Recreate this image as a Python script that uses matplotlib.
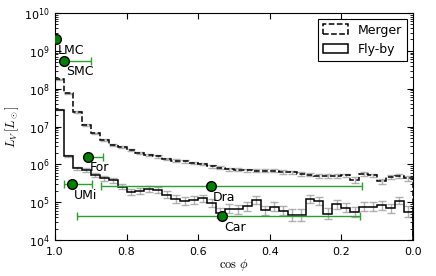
import numpy as np
import matplotlib
matplotlib.use("Agg")
import matplotlib.pyplot as plt

# ---- data -------------------------------------------------------------
bin_edges = np.linspace(0.0, 1.0, 41)

# values per bin from cos(phi)=1 (left) down to 0 (right)
flyby = [2.8e7, 1.7e6, 7.8e5, 7.1e5, 5.2e5, 4.3e5, 3.8e5, 2.6e5, 1.9e5, 1.95e5,
         2.2e5, 2.1e5, 1.6e5, 1.2e5, 1.07e5, 1.15e5, 1.26e5, 9.5e4, 5.2e4, 6.8e4,
         6.5e4, 7.9e4, 1.15e5, 6.2e4, 7.6e4, 6.0e4, 4.6e4, 4.6e4, 1.23e5, 1.07e5,
         5.0e4, 8.9e4, 7.2e4, 5.5e4, 7.6e4, 7.6e4, 8.3e4, 6.9e4, 1.1e5, 5.6e4]
flyby_err_dex = [0.01, 0.03, 0.05, 0.05, 0.06, 0.06, 0.06, 0.07, 0.08, 0.08,
                 0.08, 0.08, 0.09, 0.10, 0.10, 0.10, 0.10, 0.10, 0.12, 0.12,
                 0.12, 0.12, 0.10, 0.12, 0.12, 0.12, 0.15, 0.15, 0.10, 0.10,
                 0.15, 0.12, 0.12, 0.14, 0.12, 0.12, 0.12, 0.12, 0.10, 0.14]

merger = [1.76e8, 7.6e7, 2.45e7, 1.1e7, 6.6e6, 4.4e6, 3.3e6, 2.9e6, 2.4e6, 2.0e6,
          1.78e6, 1.62e6, 1.41e6, 1.26e6, 1.2e6, 1.1e6, 1.02e6, 8.9e5, 8.1e5, 7.4e5,
          7.2e5, 7.1e5, 6.8e5, 6.8e5, 6.9e5, 6.3e5, 6.2e5, 5.5e5, 5.4e5, 5.0e5,
          4.9e5, 5.0e5, 5.1e5, 3.9e5, 5.5e5, 5.1e5, 3.6e5, 4.6e5, 5.0e5, 4.3e5]
merger_err_dex = [0.01, 0.01, 0.02, 0.02, 0.02, 0.02, 0.02, 0.02, 0.02, 0.03,
                  0.03, 0.03, 0.03, 0.03, 0.03, 0.03, 0.03, 0.04, 0.04, 0.04,
                  0.04, 0.04, 0.04, 0.04, 0.04, 0.04, 0.04, 0.05, 0.05, 0.05,
                  0.05, 0.05, 0.05, 0.07, 0.05, 0.05, 0.07, 0.05, 0.05, 0.06]

gal_names = ['LMC', 'SMC', 'For', 'UMi', 'Dra', 'Car']
gal_cos = [0.998, 0.974, 0.909, 0.952, 0.565, 0.534]
gal_L = [2.0e9, 5.5e8, 1.6e6, 3.0e5, 2.7e5, 4.3e4]
gal_cos_low = [0.998, 0.900, 0.865, 0.897, 0.142, 0.149]
gal_cos_high = [0.998, 0.980, 0.915, 0.974, 0.871, 0.939]

x_ticks = [1.0, 0.8, 0.6, 0.4, 0.2, 0.0]
y_ticks = [1e4, 1e5, 1e6, 1e7, 1e8, 1e9, 1e10]

# ---- figure -----------------------------------------------------------
fig = plt.figure(figsize=(4.36, 2.76), dpi=100)
ax = fig.add_axes([0.126, 0.130, 0.821, 0.823])

edges_desc = bin_edges[::-1]
centers = 0.5 * (edges_desc[:-1] + edges_desc[1:])

fl = np.array(flyby)
me = np.array(merger)
fe = np.array(flyby_err_dex)
mee = np.array(merger_err_dex)

ax.errorbar(centers, me, yerr=[me - me * 10**(-mee), me * 10**mee - me],
            fmt='none', ecolor='0.62', elinewidth=1.0, capsize=3, capthick=1.0,
            alpha=0.8, zorder=1)
ax.errorbar(centers, fl, yerr=[fl - fl * 10**(-fe), fl * 10**fe - fl],
            fmt='none', ecolor='0.62', elinewidth=1.0, capsize=3, capthick=1.0,
            alpha=0.8, zorder=1)

ax.hist(centers, bins=bin_edges, weights=me, histtype='step', color='k',
        linestyle='--', linewidth=1.1, label='Merger', zorder=2)
ax.hist(centers, bins=bin_edges, weights=fl, histtype='step', color='k',
        linestyle='-', linewidth=1.1, label='Fly-by', zorder=2)

gc = np.array(gal_cos)
xerr = [gc - np.array(gal_cos_low), np.array(gal_cos_high) - gc]
ax.errorbar(gc, gal_L, xerr=xerr, fmt='o', color='#008000', ecolor='#2ca02c',
            elinewidth=1.0, capsize=3, capthick=1.0, markersize=7,
            markeredgecolor='k', markeredgewidth=1.0, zorder=4)

for name, cx, ly in zip(gal_names, gal_cos, gal_L):
    ax.annotate(name, (cx, ly), xytext=(1.5, -8), textcoords='offset points',
                ha='left', va='center', fontsize=9, zorder=5)

ax.set_yscale('log')
ax.set_xlim(1.0, 0.0)
ax.set_ylim(1e4, 1e10)
ax.set_xticks(x_ticks)
ax.set_xticklabels([f"{t:.1f}" for t in x_ticks])
ax.set_yticks(y_ticks)
ax.tick_params(which='both', direction='in', top=True, right=True, labelsize=8)
ax.tick_params(which='major', length=4)
ax.tick_params(which='minor', length=2)
ax.tick_params(axis='x', pad=5)
ax.tick_params(axis='y', pad=4)
ax.xaxis.set_minor_locator(matplotlib.ticker.NullLocator())

ax.set_xlabel(r'$\cos\,\phi$', fontsize=9, math_fontfamily='cm', labelpad=0)
ax.set_ylabel(r'$L_V\,[L_\odot]$', fontsize=9, math_fontfamily='cm', labelpad=2)

leg = ax.legend(loc='upper right', fontsize=9, fancybox=False, framealpha=1,
                edgecolor='k', borderaxespad=0.45, handlelength=2.0,
                handleheight=0.8)
leg.get_frame().set_linewidth(0.8)

fig.savefig('out.png', dpi=100)
